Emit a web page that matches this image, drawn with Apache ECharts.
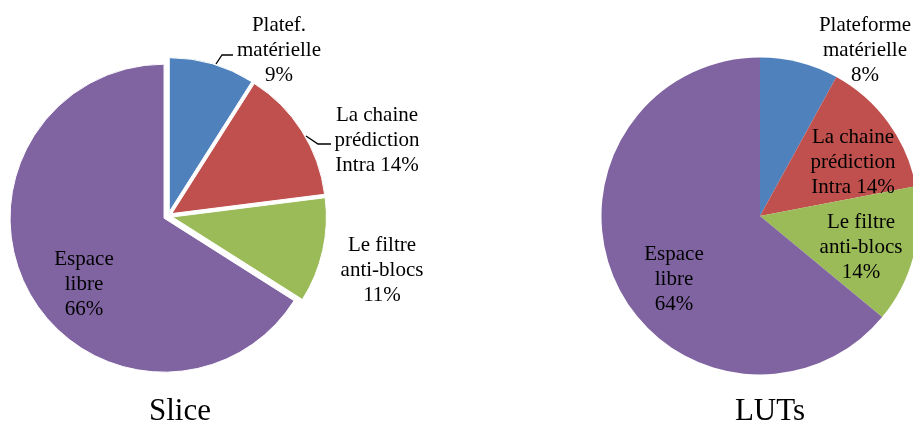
<!DOCTYPE html>
<html>
<head>
<meta charset="utf-8">
<script src="https://cdn.jsdelivr.net/npm/echarts@6/dist/echarts.min.js"></script>
<style>
  html, body { margin: 0; padding: 0; background: #fff; }
  #chart { width: 913px; height: 421px; }
</style>
</head>
<body>
<div id="chart"></div>
<script>
// Resource usage breakdown of the FPGA (percent of Slices and of LUTs)
const sliceCategories = ['Platef.\nmatérielle\n', 'La chaine\nprédiction\nIntra ', 'Le filtre\nanti-blocs\n', 'Espace\nlibre\n'];
const sliceValues = [9, 14, 11, 66];

const lutCategories = ['Plateforme\nmatérielle\n', 'La chaine\nprédiction\nIntra ', 'Le filtre\nanti-blocs\n', 'Espace\nlibre\n'];
const lutValues = [8, 14, 14, 64];

const chartTitles = ['Slice', 'LUTs'];

const palette = ['#4F81BD', '#C0504D', '#9BBB59', '#8064A2'];
const serif = '"Liberation Serif", "DejaVu Serif", serif';

// Label centres per pie and slice
const labelPlacement = [
  [[279, 50], [377, 140], [382, 270], [84, 284]],
  [[865, 50], [853, 162], [861, 247], [674, 279]]
];
const titlePlacement = [[180, 412], [770, 412]];

// Leader lines for the two small slices of the first pie
const leaderLines = [
  [[216, 64], [222, 55], [233, 55]],
  [[306, 136], [318, 144], [331, 144]]
];

function buildData(names, values, exploded) {
  return names.map((n, i) => ({
    name: n,
    value: values[i],
    selected: exploded,
    itemStyle: { color: palette[i] }
  }));
}

// Slice labels: category name followed by its value in percent
function labelTexts(names, values, pieIndex) {
  return names.map((n, i) => ({
    type: 'text',
    x: labelPlacement[pieIndex][i][0],
    y: labelPlacement[pieIndex][i][1],
    z: 10,
    style: {
      text: n + values[i] + '%',
      font: '21px ' + serif,
      lineHeight: 25,
      fill: '#000',
      textAlign: 'center',
      textVerticalAlign: 'middle'
    }
  }));
}

const chart = echarts.init(document.getElementById('chart'), null, { renderer: 'canvas' });

const graphics = []
  .concat(chartTitles.map((t, i) => ({
    type: 'text',
    x: titlePlacement[i][0],
    y: titlePlacement[i][1],
    style: {
      text: t,
      font: '31px ' + serif,
      fill: '#000',
      textAlign: 'center',
      textVerticalAlign: 'middle'
    }
  })))
  .concat(leaderLines.map(pts => ({
    type: 'polyline',
    z: 10,
    shape: { points: pts },
    style: { stroke: '#000', lineWidth: 1.3, fill: null }
  })))
  .concat(labelTexts(sliceCategories, sliceValues, 0))
  .concat(labelTexts(lutCategories, lutValues, 1));

chart.setOption({
  animation: false,
  backgroundColor: '#fff',
  graphic: graphics,
  series: [
    {
      type: 'pie',
      center: [168, 216],
      radius: [0, 154],
      startAngle: 90,
      clockwise: true,
      selectedMode: 'multiple',
      selectedOffset: 4.5,
      itemStyle: { borderColor: '#fff', borderWidth: 1 },
      select: { itemStyle: { borderColor: '#fff', borderWidth: 1 } },
      emphasis: { disabled: true },
      label: { show: false },
      labelLine: { show: false },
      data: buildData(sliceCategories, sliceValues, true)
    },
    {
      type: 'pie',
      center: [760, 216],
      radius: [0, 158.5],
      startAngle: 90,
      clockwise: true,
      itemStyle: { borderWidth: 0 },
      emphasis: { disabled: true },
      label: { show: false },
      labelLine: { show: false },
      data: buildData(lutCategories, lutValues, false)
    }
  ]
});
</script>
</body>
</html>
